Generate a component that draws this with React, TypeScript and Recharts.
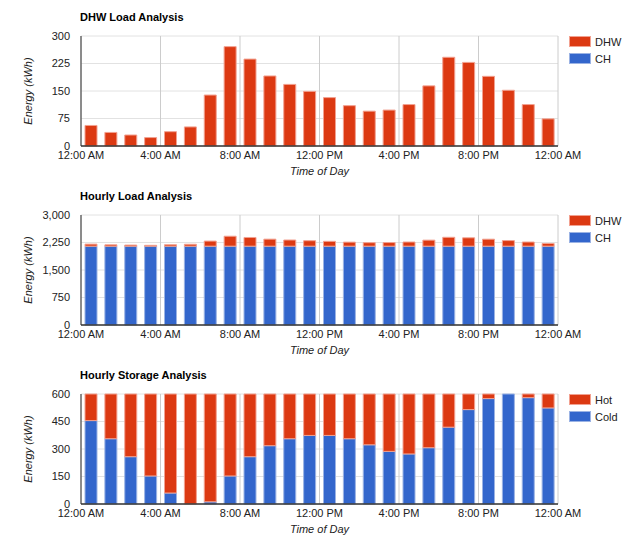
import { BarChart, Bar, XAxis, YAxis, CartesianGrid } from "recharts";

// hourly slots, 12:00 AM .. 11:00 PM
const hours = [
  0, 1, 2, 3, 4, 5, 6, 7, 8, 9, 10, 11, 12, 13, 14, 15, 16, 17, 18, 19, 20, 21,
  22, 23,
];
const timeTicks = [0, 4, 8, 12, 16, 20, 24];
const timeLabels = [
  "12:00 AM",
  "4:00 AM",
  "8:00 AM",
  "12:00 PM",
  "4:00 PM",
  "8:00 PM",
  "12:00 AM",
];

const dhwLoad = [
  56, 37, 30, 23, 39, 52, 139, 271, 237, 191, 168, 149, 132, 110, 95, 98, 113,
  164, 242, 228, 190, 152, 113, 74,
];
const chLoad = [
  2150, 2150, 2150, 2150, 2150, 2150, 2150, 2150, 2150, 2150, 2150, 2150, 2150,
  2150, 2150, 2150, 2150, 2150, 2150, 2150, 2150, 2150, 2150, 2150,
];
const coldStorage = [
  455, 356, 258, 153, 60, 0, 12, 153, 258, 318, 356, 374, 374, 356, 323, 287,
  273, 307, 419, 515, 575, 600, 580, 524,
];
const hotStorage = [
  145, 244, 342, 447, 540, 600, 588, 447, 342, 282, 244, 226, 226, 244, 277,
  313, 327, 293, 181, 85, 25, 0, 20, 76,
];

const dhwTicks = [0, 75, 150, 225, 300];
const loadTicks = [0, 750, 1500, 2250, 3000];
const storageTicks = [0, 150, 300, 450, 600];

const RED = "#dc3912";
const RED_EDGE = "#f2a190";
const BLUE = "#3366cc";
const BLUE_EDGE = "#9bb3e4";

// bar sits in the middle of its hour slot
const rows = hours.map((h, i) => ({
  t: h + 0.5,
  dhw: dhwLoad[i],
  ch: chLoad[i],
  cold: coldStorage[i],
  hot: hotStorage[i],
}));

type Series = { key: string; name: string; fill: string; stroke: string };

const font = '"Liberation Sans", Arial, sans-serif';

const AnalysisChart = ({
  title,
  bars,
  legend,
  yTicks,
  top,
}: {
  title: string;
  bars: Series[];
  legend: Series[];
  yTicks: number[];
  top: number;
}) => {
  return (
    <div style={{ position: "absolute", left: 0, top, width: 636, height: 180 }}>
      {/* Title */}
      <div
        style={{
          position: "absolute",
          left: 80,
          top: 11,
          fontSize: 11,
          lineHeight: "13px",
          fontWeight: "bold",
          color: "#000",
        }}
      >
        {title}
      </div>

      {/* Legend */}
      <div style={{ position: "absolute", left: 569, top: 36 }}>
        {legend.map((s) => (
          <div
            key={s.name}
            style={{ display: "flex", alignItems: "center", height: 11, marginBottom: 6 }}
          >
            <div
              style={{
                width: 20,
                height: 9,
                background: s.fill,
                border: `1px solid ${s.stroke}`,
                marginRight: 4,
              }}
            />
            <span style={{ fontSize: 11, color: "#222" }}>{s.name}</span>
          </div>
        ))}
      </div>

      <BarChart
        width={636}
        height={180}
        data={rows}
        margin={{ top: 36, right: 78, bottom: 14, left: 20 }}
      >
        <CartesianGrid vertical={false} stroke="#e2e2e2" />
        <CartesianGrid horizontal={false} stroke="#cccccc" />

        <XAxis
          dataKey="t"
          type="number"
          domain={[0, 24]}
          ticks={timeTicks}
          interval={0}
          tickFormatter={(v) => timeLabels[timeTicks.indexOf(v)]}
          height={20}
          tickLine={false}
          tickSize={0}
          tickMargin={5}
          axisLine={{ stroke: "#333", strokeWidth: 1.5 }}
          tick={{ fill: "#222", fontSize: 11 }}
          label={{
            value: "Time of Day",
            position: "bottom",
            offset: 1,
            style: { fontStyle: "italic", fontSize: 11, fill: "#222" },
          }}
        />

        <YAxis
          type="number"
          domain={[yTicks[0], yTicks[yTicks.length - 1]]}
          ticks={yTicks}
          interval={0}
          tickFormatter={(v) => v.toLocaleString("en-US")}
          width={61}
          tickLine={false}
          tickSize={0}
          tickMargin={11}
          axisLine={{ stroke: "#333" }}
          tick={{ fill: "#222", fontSize: 11 }}
          label={{
            value: "Energy (kWh)",
            angle: -90,
            position: "insideLeft",
            offset: 8,
            style: {
              textAnchor: "middle",
              fontStyle: "italic",
              fontSize: 11,
              fill: "#222",
            },
          }}
        />

        {bars.map((s) => (
          <Bar
            key={s.key}
            dataKey={s.key}
            name={s.name}
            stackId="stack"
            fill={s.fill}
            stroke={s.stroke}
            strokeWidth={1}
            barSize={12}
            isAnimationActive={false}
          />
        ))}
      </BarChart>
    </div>
  );
};

const dhw: Series = { key: "dhw", name: "DHW", fill: RED, stroke: RED_EDGE };
const ch: Series = { key: "ch", name: "CH", fill: BLUE, stroke: BLUE_EDGE };
const hot: Series = { key: "hot", name: "Hot", fill: RED, stroke: RED_EDGE };
const cold: Series = { key: "cold", name: "Cold", fill: BLUE, stroke: BLUE_EDGE };

export default function App() {
  return (
    <div
      style={{
        position: "absolute",
        left: 0,
        top: 0,
        width: 636,
        height: 543,
        background: "#fff",
        fontFamily: font,
      }}
    >
      <AnalysisChart title="DHW Load Analysis" bars={[dhw]} legend={[dhw, ch]} yTicks={dhwTicks} top={0} />
      <AnalysisChart title="Hourly Load Analysis" bars={[ch, dhw]} legend={[dhw, ch]} yTicks={loadTicks} top={179} />
      <AnalysisChart title="Hourly Storage Analysis" bars={[cold, hot]} legend={[hot, cold]} yTicks={storageTicks} top={358} />
    </div>
  );
}
